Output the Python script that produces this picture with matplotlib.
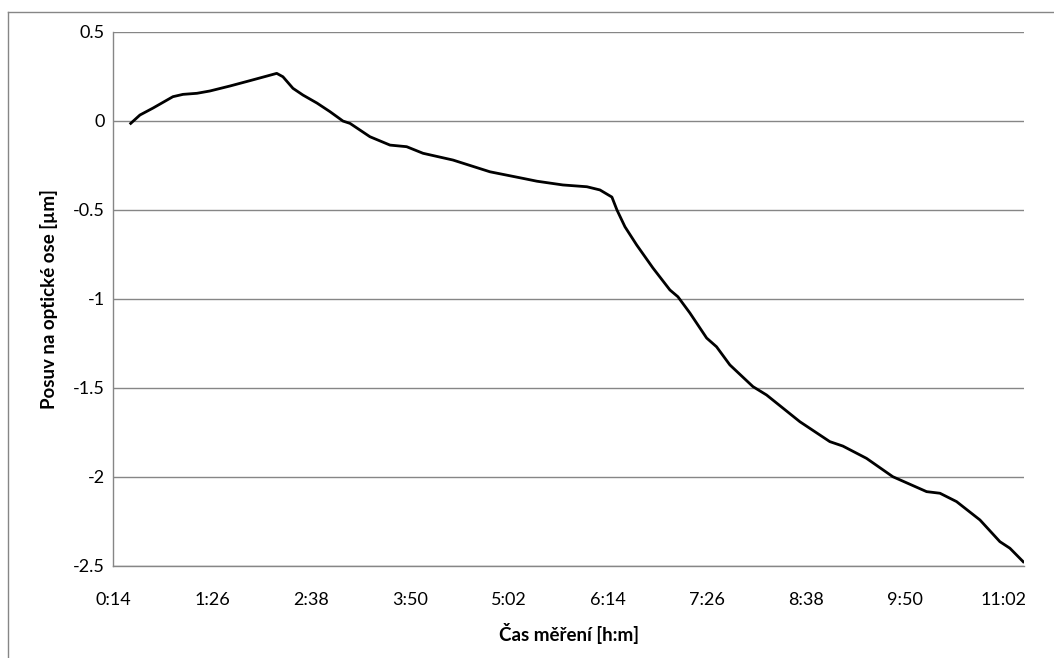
import numpy as np
import matplotlib
matplotlib.use("Agg")
import matplotlib.pyplot as plt
from matplotlib.ticker import FuncFormatter, MultipleLocator
from matplotlib.lines import Line2D

plt.rcParams["font.family"] = ["Lato", "DejaVu Sans"]

# čas měření v minutách od 0:00
cas_min = [26.9, 33.6, 43.1, 57.6, 64.9, 75.1, 84.5, 99.1, 113.6, 126.0,
           133.1, 137.6, 144.9, 152.2, 162.4, 171.8, 181.3, 186.4, 200.9, 215.5,
           227.6, 239.5, 261.3, 288.2, 312.2, 322.4, 341.3, 358.7, 368.2, 376.9,
           380.6, 386.4, 394.9, 406.7, 419.1, 424.9, 433.6, 445.8, 453.0, 462.7,
           479.5, 489.4, 513.6, 535.4, 544.9, 562.1, 581.2, 605.8, 615.5, 627.6,
           644.6, 659.1, 666.4, 676.1]

# posuv na optické ose [um]
posuv = [-0.015, 0.032, 0.071, 0.135, 0.148, 0.154, 0.167, 0.195, 0.225, 0.251,
         0.266, 0.247, 0.182, 0.144, 0.099, 0.051, -0.002, -0.015, -0.090, -0.137,
         -0.146, -0.183, -0.221, -0.287, -0.324, -0.340, -0.361, -0.371, -0.389, -0.429,
         -0.502, -0.596, -0.698, -0.827, -0.951, -0.989, -1.080, -1.221, -1.270, -1.372,
         -1.494, -1.541, -1.691, -1.803, -1.828, -1.897, -2.000, -2.084, -2.093, -2.140,
         -2.243, -2.365, -2.402, -2.478]

GRAY = "#868686"

fig = plt.figure(figsize=(10.54, 6.58), dpi=100)
ax = fig.add_axes([0.1072, 0.1403, 0.972 - 0.1072, 0.9518 - 0.1403])

ax.plot(cas_min, posuv, color="black", linewidth=2.0)

ax.set_xlim(14, 677)
ax.set_ylim(-2.5, 0.5)
ax.xaxis.set_major_locator(MultipleLocator(72, offset=14))
ax.yaxis.set_major_locator(MultipleLocator(0.5))
ax.xaxis.set_major_formatter(FuncFormatter(lambda v, p: f"{int(round(v)) // 60}:{int(round(v)) % 60:02d}"))
ax.yaxis.set_major_formatter(FuncFormatter(lambda v, p: "0" if abs(v) < 1e-9 else f"{v:g}"))

ax.grid(axis="y", color=GRAY, linewidth=1)
ax.set_axisbelow(True)
for s in ["top", "right"]:
    ax.spines[s].set_visible(False)
for s in ["left", "bottom"]:
    ax.spines[s].set_color(GRAY)
    ax.spines[s].set_linewidth(1)
ax.tick_params(length=0, labelsize=13, colors="black")
ax.tick_params(axis="x", pad=19)
ax.tick_params(axis="y", pad=6)

ax.set_xlabel("Čas měření [h:m]", fontsize=13.5, fontweight="bold", labelpad=11)
ax.set_ylabel("Posuv na optické ose [µm]", fontsize=13.5, fontweight="bold", labelpad=11)

# okraj oblasti grafu (Excel)
fig.add_artist(Line2D([0.0076, 0.0076], [0, 0.982], transform=fig.transFigure, color=GRAY, linewidth=1))
fig.add_artist(Line2D([0.0076, 1], [0.982, 0.982], transform=fig.transFigure, color=GRAY, linewidth=1))

fig.savefig("out.png", dpi=100)
